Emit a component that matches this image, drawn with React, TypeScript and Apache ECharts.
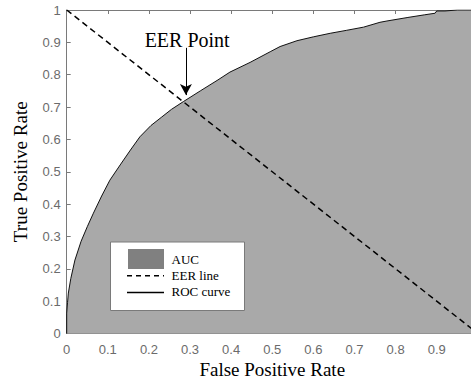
import React, { useEffect, useRef } from "react";
import * as echarts from "echarts";

// ROC curve points [FPR, TPR]
const rocX = [0, 0, 0.002, 0.004, 0.01, 0.02, 0.035, 0.05, 0.065, 0.085, 0.105, 0.13, 0.155, 0.178, 0.205, 0.23, 0.255, 0.284, 0.325, 0.368, 0.397, 0.446, 0.495, 0.519, 0.56, 0.6, 0.641, 0.68, 0.722, 0.762, 0.779, 0.83, 0.87, 0.896, 0.9, 0.92, 0.95, 1];
const rocY = [0, 0.063, 0.095, 0.125, 0.17, 0.227, 0.285, 0.33, 0.372, 0.425, 0.474, 0.521, 0.567, 0.608, 0.643, 0.668, 0.693, 0.717, 0.75, 0.784, 0.808, 0.838, 0.871, 0.887, 0.905, 0.917, 0.928, 0.937, 0.947, 0.962, 0.966, 0.977, 0.985, 0.99, 0.997, 0.997, 1, 1];
// EER line endpoints
const eerX = [0, 1];
const eerY = [1, 0];
// EER point annotation
const eerPoint = [0.29, 0.717];
const eerLabelPos = [0.293, 0.907];
const arrowStartY = 0.883;
const arrowEndY = 0.737;
// Tick labels (x: the 1 tick falls outside the visible picture)
const xTickLabels = ["0", "0.1", "0.2", "0.3", "0.4", "0.5", "0.6", "0.7", "0.8", "0.9"];
const yTickLabels = ["0", "0.1", "0.2", "0.3", "0.4", "0.5", "0.6", "0.7", "0.8", "0.9", "1"];
const legendLabels = ["AUC", "EER line", "ROC curve"];

const AXIS_COLOR = "#7a7a7a";
const LABEL_COLOR = "#6b6b6b";
const FILL = "#a9a9a9";
const SERIF = "'Liberation Serif', 'Times New Roman', serif";
const SANS = "'Liberation Sans', Arial, sans-serif";

export default function App() {
  const ref = useRef<HTMLDivElement>(null);
  useEffect(() => {
    if (!ref.current) return;
    const chart = echarts.init(ref.current, null, { renderer: "svg" });
    const rocData = rocX.map((x, i) => [x, rocY[i]]);
    const eerData = eerX.map((x, i) => [x, eerY[i]]);
    const mkFmt = (labels: string[]) => (v: number) => {
      const idx = Math.round(v * 10);
      return labels[idx] ?? "";
    };
    const axisCommon = {
      type: "value" as const,
      min: 0,
      max: 1,
      interval: 0.1,
      splitLine: { show: false },
      axisLine: { show: true, lineStyle: { color: AXIS_COLOR, width: 1 } },
      axisTick: { show: true, inside: true, length: 4, lineStyle: { color: AXIS_COLOR } },
    };
    const LZ = 100;
    const option: any = {
      animation: false,
      backgroundColor: "#ffffff",
      grid: { left: 66.7, right: -6.8, top: 10, bottom: 48.5, containLabel: false, outerBoundsMode: "none" },
      xAxis: [
        {
          ...axisCommon,
          position: "bottom",
          name: "False Positive Rate",
          nameLocation: "middle",
          nameGap: 26,
          nameTextStyle: { fontFamily: SERIF, fontSize: 19, color: "#000" },
          axisLabel: { fontFamily: SANS, fontSize: 13, color: LABEL_COLOR, margin: 9, formatter: mkFmt(xTickLabels) },
        },
        {
          ...axisCommon,
          position: "top",
          axisLabel: { show: false },
        },
      ],
      yAxis: [
        {
          ...axisCommon,
          position: "left",
          name: "True Positive Rate",
          nameLocation: "middle",
          nameGap: 37,
          nameTextStyle: { fontFamily: SERIF, fontSize: 19, color: "#000" },
          axisLabel: { fontFamily: SANS, fontSize: 13, color: LABEL_COLOR, margin: 6, formatter: mkFmt(yTickLabels) },
        },
      ],
      series: [
        {
          type: "line",
          name: "ROC curve",
          data: rocData,
          showSymbol: false,
          symbol: "none",
          lineStyle: { color: "#111", width: 1 },
          areaStyle: { color: FILL, opacity: 1 },
          z: 2,
          markLine: {
            silent: true,
            symbol: ["none", "arrow"],
            symbolSize: [9, 11],
            lineStyle: { color: "#000", width: 1, type: "solid" },
            label: { show: false },
            data: [
              [
                { coord: [eerPoint[0], arrowStartY] },
                { coord: [eerPoint[0], arrowEndY] },
              ],
            ],
          },
          markPoint: {
            silent: true,
            symbol: "circle",
            symbolSize: 0,
            label: {
              show: true,
              position: "inside",
              formatter: "EER Point",
              fontFamily: SERIF,
              fontSize: 20,
              color: "#000",
            },
            data: [{ coord: eerLabelPos }],
          },
        },
        {
          type: "line",
          name: "EER line",
          data: eerData,
          showSymbol: false,
          symbol: "none",
          lineStyle: { color: "#000", width: 1.5, type: [6, 4] },
          z: 3,
        },
      ],
      graphic: [
        {
          type: "group",
          x: 110.5,
          y: 242,
          z: LZ,
          children: [
            { type: "rect", z: LZ, shape: { x: 0, y: 0, width: 134, height: 68.5 }, style: { fill: "#fff", stroke: AXIS_COLOR, lineWidth: 1 } },
            { type: "rect", z: LZ + 1, shape: { x: 17.5, y: 7, width: 36, height: 20 }, style: { fill: "#808080" } },
            { type: "line", z: LZ + 1, shape: { x1: 16.5, y1: 33.7, x2: 53.5, y2: 33.7 }, style: { stroke: "#000", lineWidth: 1.5, lineDash: [5, 4] } },
            { type: "line", z: LZ + 1, shape: { x1: 16.5, y1: 50.5, x2: 53.5, y2: 50.5 }, style: { stroke: "#000", lineWidth: 1.3 } },
            { type: "text", z: LZ + 1, x: 61, y: 17.3, style: { text: legendLabels[0], fontFamily: SERIF, fontSize: 13, fill: "#000", verticalAlign: "middle" } },
            { type: "text", z: LZ + 1, x: 61, y: 33.7, style: { text: legendLabels[1], fontFamily: SERIF, fontSize: 13, fill: "#000", verticalAlign: "middle" } },
            { type: "text", z: LZ + 1, x: 61, y: 49.7, style: { text: legendLabels[2], fontFamily: SERIF, fontSize: 13, fill: "#000", verticalAlign: "middle" } },
          ],
        },
      ],
    };
    chart.setOption(option);
    return () => chart.dispose();
  }, []);
  return <div ref={ref} style={{ position: "fixed", left: 0, top: 0, width: 471, height: 382 }} />;
}
